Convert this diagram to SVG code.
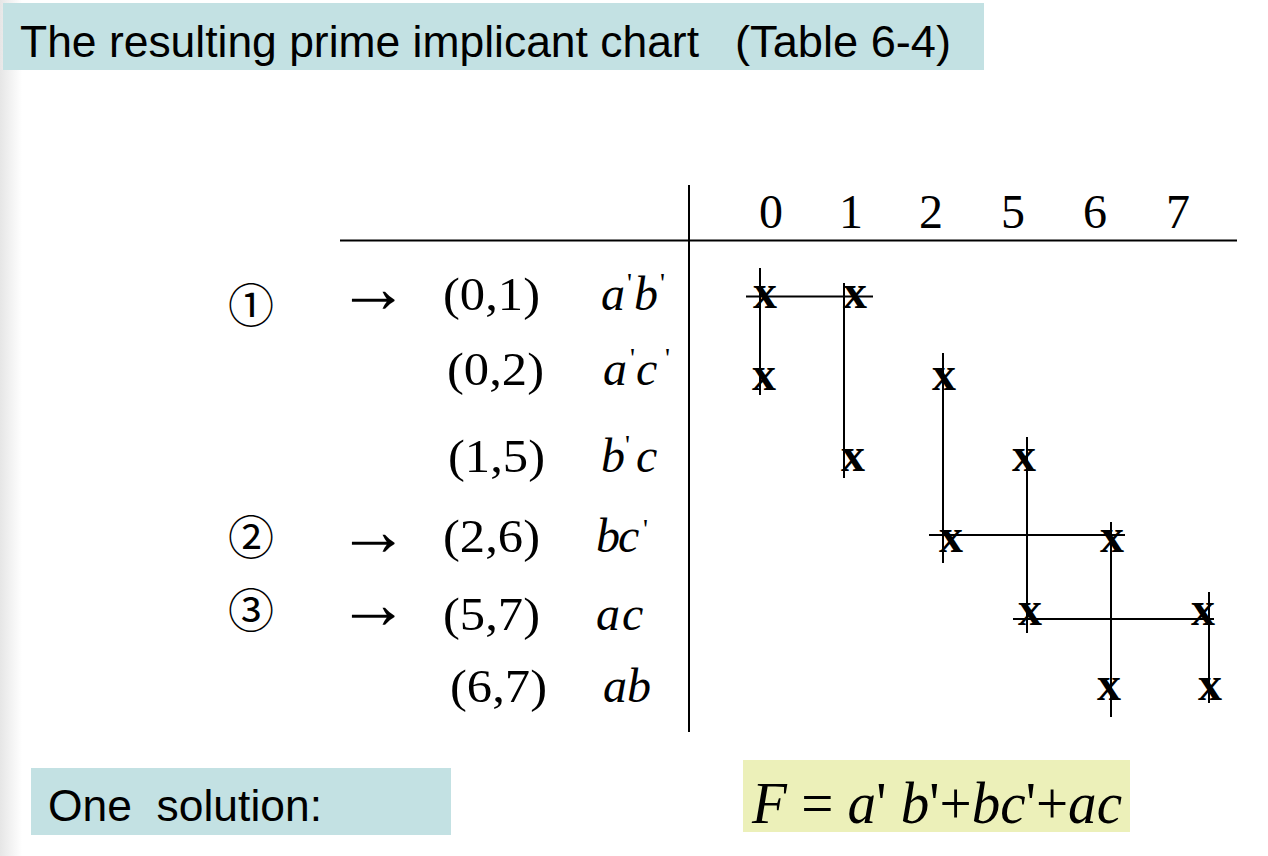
<svg xmlns="http://www.w3.org/2000/svg" width="1268" height="856" viewBox="0 0 1268 856">
  <defs>
    <linearGradient id="edge" x1="0" y1="0" x2="1" y2="0">
      <stop offset="0" stop-color="#e6e6e6"/>
      <stop offset="1" stop-color="#ffffff"/>
    </linearGradient>
  </defs>
  <style>
    .sans { font-family: "Liberation Sans", Arial, sans-serif; font-size: 44px; fill: #000; }
    .num { font-family: "Liberation Serif", "Times New Roman", serif; font-size: 48px; fill: #000; }
    .row { font-family: "Liberation Serif", "Times New Roman", serif; font-size: 47px; fill: #000; }
    .it { font-family: "Liberation Serif", "Times New Roman", serif; font-size: 48px; font-style: italic; fill: #000; }
    .pr { font-family: "Liberation Serif", "Times New Roman", serif; font-size: 28px; fill: #000; }
    .x { font-family: "Liberation Serif", "Times New Roman", serif; font-size: 48px; font-weight: bold; fill: #000; text-anchor: middle; }
    .arr { font-family: "Liberation Serif", "DejaVu Serif", serif; font-size: 72px; fill: #000; }
    .circ { font-family: "Noto Sans CJK KR", "DejaVu Sans", sans-serif; font-size: 46px; fill: #000; text-anchor: middle; }
    .ln { stroke: #000; stroke-width: 2; fill: none; }
  </style>
  <rect x="0" y="0" width="1268" height="856" fill="#ffffff"/>
  <rect x="0" y="0" width="22" height="856" fill="url(#edge)"/>

  <g id="title">
    <rect x="3" y="3" width="981" height="67" fill="#c3e1e3"/>
    <text class="sans" x="20" y="57"><tspan textLength="679" lengthAdjust="spacingAndGlyphs">The resulting prime implicant chart</tspan><tspan x="735" textLength="216" lengthAdjust="spacingAndGlyphs">(Table 6-4)</tspan></text>
  </g>

  <g id="table-frame">
    <line class="ln" x1="689" y1="185" x2="689" y2="732"/>
    <line class="ln" x1="340" y1="240.5" x2="1237" y2="240.5"/>
  </g>

  <g id="header">
    <text class="num" text-anchor="middle" x="771" y="228">0</text>
    <text class="num" text-anchor="middle" x="851" y="228">1</text>
    <text class="num" text-anchor="middle" x="931" y="228">2</text>
    <text class="num" text-anchor="middle" x="1013" y="228">5</text>
    <text class="num" text-anchor="middle" x="1095" y="228">6</text>
    <text class="num" text-anchor="middle" x="1178" y="228">7</text>
  </g>

  <g id="markers">
    <text class="circ" x="251" y="322">①</text>
    <text class="arr" x="337" y="312">→</text>
    <text class="circ" x="251" y="554">②</text>
    <text class="arr" x="337" y="555">→</text>
    <text class="circ" x="251" y="627">③</text>
    <text class="arr" x="337" y="628">→</text>
  </g>

  <g id="row-01">
    <text class="row" x="443" y="310" textLength="97" lengthAdjust="spacingAndGlyphs">(0,1)</text>
    <text class="it" y="310"><tspan x="601">a</tspan><tspan class="pr" font-style="normal" x="627" dy="-18">'</tspan><tspan x="634" dy="18">b</tspan><tspan class="pr" font-style="normal" x="660" dy="-18">'</tspan></text>
  </g>
  <g id="row-02">
    <text class="row" x="447" y="385" textLength="97" lengthAdjust="spacingAndGlyphs">(0,2)</text>
    <text class="it" y="385"><tspan x="603">a</tspan><tspan class="pr" font-style="normal" x="630" dy="-18">'</tspan><tspan x="636" dy="18">c</tspan><tspan class="pr" font-style="normal" x="665" dy="-18">'</tspan></text>
  </g>
  <g id="row-15">
    <text class="row" x="448" y="472" textLength="97" lengthAdjust="spacingAndGlyphs">(1,5)</text>
    <text class="it" y="472"><tspan x="601">b</tspan><tspan class="pr" font-style="normal" x="625" dy="-18">'</tspan><tspan x="636" dy="18">c</tspan></text>
  </g>
  <g id="row-26">
    <text class="row" x="443" y="552" textLength="97" lengthAdjust="spacingAndGlyphs">(2,6)</text>
    <text class="it" y="552"><tspan x="596">b</tspan><tspan x="618">c</tspan><tspan class="pr" font-style="normal" x="643" dy="-14">'</tspan></text>
  </g>
  <g id="row-57">
    <text class="row" x="443" y="630" textLength="97" lengthAdjust="spacingAndGlyphs">(5,7)</text>
    <text class="it" y="630"><tspan x="596">a</tspan><tspan x="622">c</tspan></text>
  </g>
  <g id="row-67">
    <text class="row" x="450" y="702" textLength="97" lengthAdjust="spacingAndGlyphs">(6,7)</text>
    <text class="it" y="702"><tspan x="603">a</tspan><tspan x="627">b</tspan></text>
  </g>

  <g id="cover-lines">
    <line class="ln" x1="746" y1="296.5" x2="873" y2="296.5"/>
    <line class="ln" x1="760" y1="268" x2="760" y2="395"/>
    <line class="ln" x1="844" y1="283" x2="844" y2="478"/>
    <line class="ln" x1="943" y1="353" x2="943" y2="563"/>
    <line class="ln" x1="929" y1="535" x2="1125" y2="535"/>
    <line class="ln" x1="1027" y1="437" x2="1027" y2="633"/>
    <line class="ln" x1="1111" y1="522" x2="1111" y2="717"/>
    <line class="ln" x1="1013" y1="619" x2="1214" y2="619"/>
    <line class="ln" x1="1209" y1="592" x2="1209" y2="703"/>
  </g>

  <g id="marks">
    <text class="x" x="765" y="308">x</text>
    <text class="x" x="855" y="308">x</text>
    <text class="x" x="764" y="390">x</text>
    <text class="x" x="944" y="390">x</text>
    <text class="x" x="853" y="471">x</text>
    <text class="x" x="1024" y="471">x</text>
    <text class="x" x="951" y="552">x</text>
    <text class="x" x="1112" y="552">x</text>
    <text class="x" x="1030" y="625">x</text>
    <text class="x" x="1203" y="625">x</text>
    <text class="x" x="1109" y="700">x</text>
    <text class="x" x="1210" y="700">x</text>
  </g>

  <g id="solution-label">
    <rect x="31" y="768" width="420" height="67" fill="#c3e1e3"/>
    <text class="sans" x="48" y="821" xml:space="preserve" textLength="274" lengthAdjust="spacingAndGlyphs">One  solution:</text>
  </g>

  <g id="solution-formula">
    <rect x="743" y="760" width="387" height="72" fill="#ecf0b9"/>
    <text x="752" y="823" font-family="Liberation Serif, Times New Roman, serif" font-size="60" fill="#000" textLength="370" lengthAdjust="spacingAndGlyphs"><tspan font-style="italic">F</tspan> = <tspan font-style="italic">a</tspan>' <tspan font-style="italic">b</tspan>'+<tspan font-style="italic">bc</tspan>'+<tspan font-style="italic">ac</tspan></text>
  </g>
</svg>
